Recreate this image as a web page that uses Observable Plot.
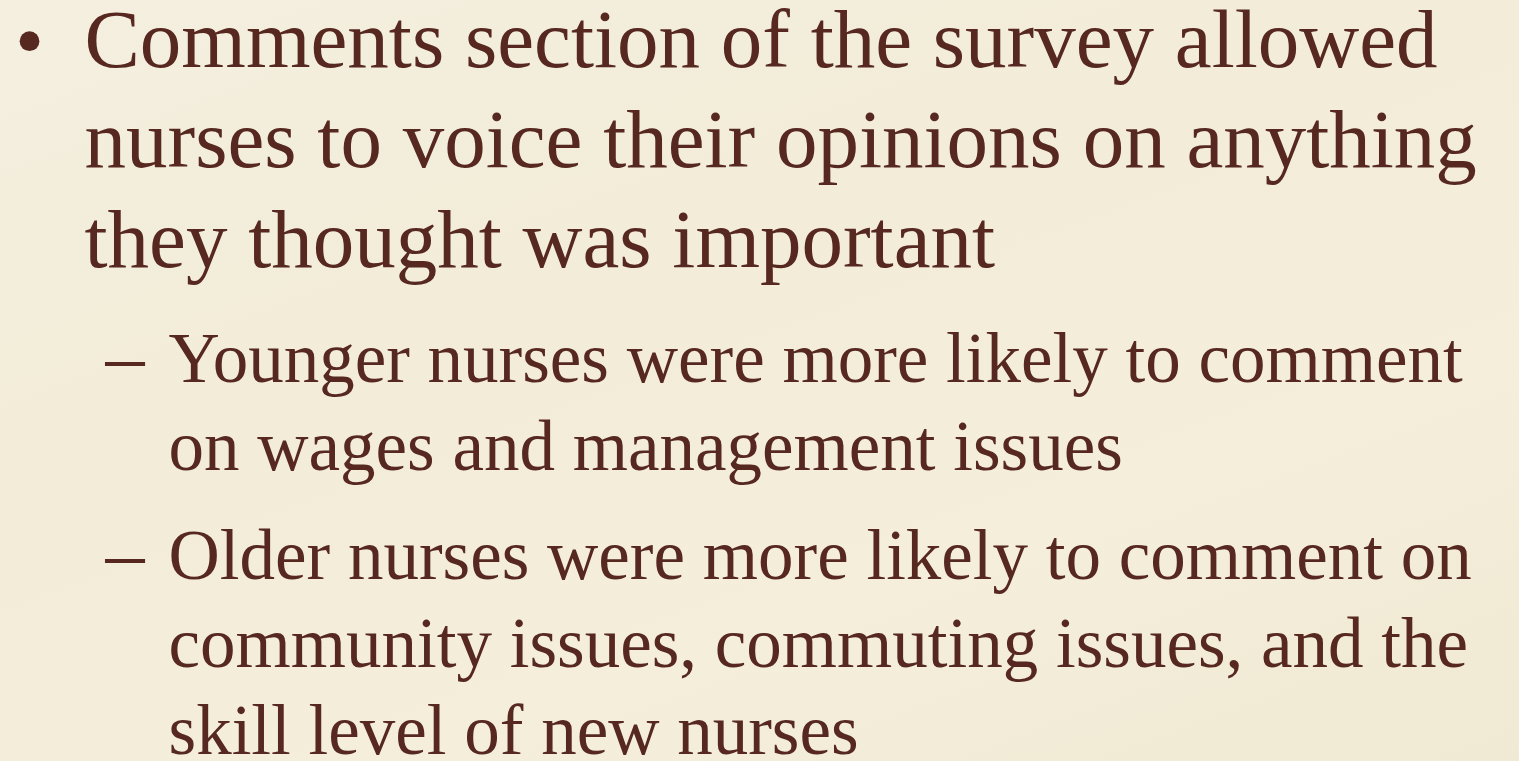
<!DOCTYPE html>
<html>
<head>
<meta charset="utf-8">
<script src="https://cdn.jsdelivr.net/npm/d3@7"></script>
<script src="https://cdn.jsdelivr.net/npm/@observablehq/plot@0.6"></script>
<style>
  html, body { margin: 0; padding: 0; overflow: hidden; }
  body { width: 1519px; height: 761px;
    background: linear-gradient(160deg, #f4efdf 0%, #f2ecd8 40%, #f4eedb 70%, #f0e9d3 100%); }
  #chart svg { display: block; background: transparent; }
</style>
</head>
<body>
<div id="chart"></div>
<script>
// Slide text content
const lines = [
  "Comments section of the survey allowed",
  "nurses to voice their opinions on anything",
  "they thought was important",
  "Younger nurses were more likely to comment",
  "on wages and management issues",
  "Older nurses were more likely to comment on",
  "community issues, commuting issues, and the",
  "skill level of new nurses"
];
// outline level of each line (0 = bullet, 1 = sub-bullet)
const levels = [0, 0, 0, 1, 1, 1, 1, 1];
// paragraph start flags (marker shown)
const starts = [true, false, false, true, false, true, false, false];
const markers = ["•", "–"];

// layout rules (typography)
const fontSize = [83, 71];
const lineHeight = [100, 87.5];
const spaceBefore = [0, 28];
const firstBaseline = 66;

let y = firstBaseline;
const rows = lines.map((text, i) => {
  if (i > 0) {
    y += lineHeight[levels[i]];
    if (starts[i]) y += spaceBefore[levels[i]] - (levels[i - 1] === levels[i] ? 6 : 0);
  }
  return {text, level: levels[i], start: starts[i], y};
});
const marks0 = rows.filter(d => d.start);

const color = "#562820";
const font = "'Liberation Serif', 'Times New Roman', serif";

const chart = Plot.plot({
  width: 1519,
  height: 761,
  margin: 0,
  x: {domain: [0, 1], range: [84, 168], axis: null},
  y: {domain: [0, 761], range: [0, 761], axis: null},
  style: {background: "transparent"},
  marks: [
    Plot.text(rows.filter(d => d.level === 0), {
      x: "level", y: "y", text: "text", textAnchor: "start", lineAnchor: "bottom",
      fill: color, fontSize: fontSize[0], fontFamily: font
    }),
    Plot.text(rows.filter(d => d.level === 1), {
      x: "level", y: "y", text: "text", textAnchor: "start", lineAnchor: "bottom",
      fill: color, fontSize: fontSize[1], fontFamily: font
    }),
    Plot.text(marks0.filter(d => d.level === 0), {
      x: "level", y: "y", text: () => markers[0], textAnchor: "middle", lineAnchor: "bottom",
      dx: -55, dy: 2, fill: color, fontSize: fontSize[0], fontFamily: font
    }),
    Plot.text(marks0.filter(d => d.level === 1), {
      x: "level", y: "y", text: () => markers[1], textAnchor: "start", lineAnchor: "bottom",
      dx: -63, fill: color, fontSize: fontSize[1] * 1.1, fontFamily: font
    })
  ]
});
document.getElementById("chart").appendChild(chart);
</script>
</body>
</html>
